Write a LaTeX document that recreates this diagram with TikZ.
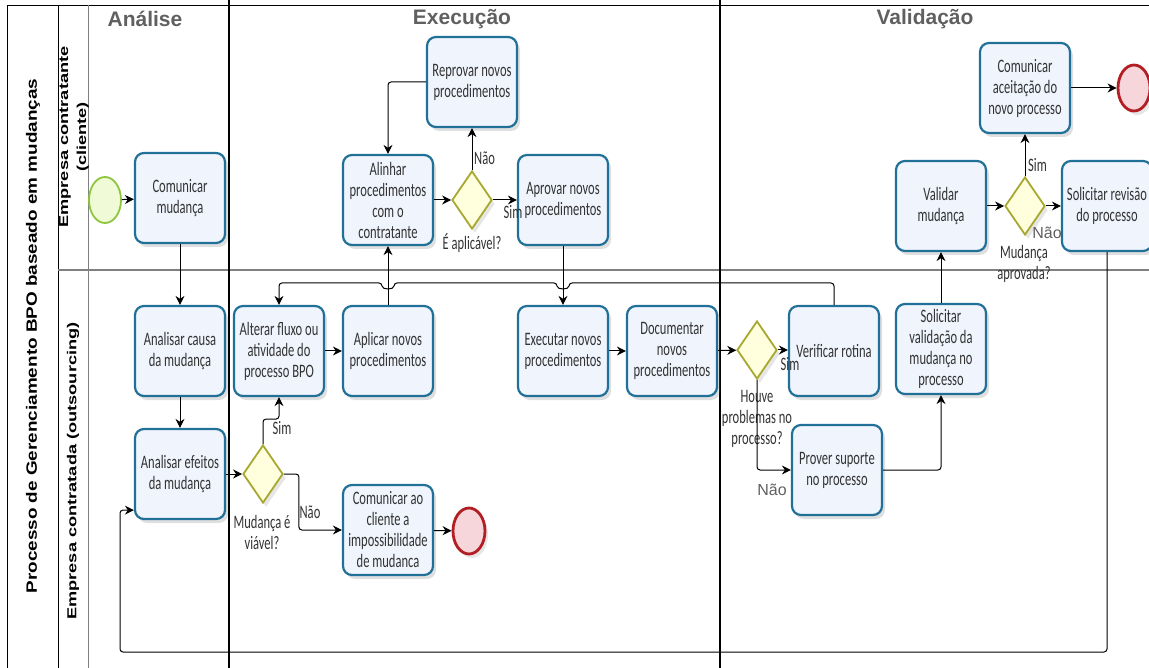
\documentclass[tikz,border=0pt]{standalone}
\usepackage{fontspec}
\setmainfont{Carlito}[FakeStretch=0.66]
\newfontfamily\headfont{Liberation Sans}
\newfontfamily\lanefont{Liberation Sans}[FakeStretch=1.4]
\newfontfamily\poolfont{Liberation Sans}[FakeStretch=1.26]
\usetikzlibrary{shapes.geometric,arrows.meta,shadows}

\definecolor{taskline}{RGB}{33,112,152}
\definecolor{taskfill}{RGB}{240,244,253}
\definecolor{gwline}{RGB}{168,168,48}
\definecolor{gwfill}{RGB}{255,255,222}
\definecolor{startline}{RGB}{140,198,63}
\definecolor{startfill}{RGB}{240,250,214}
\definecolor{endline}{RGB}{178,30,35}
\definecolor{endfill}{RGB}{246,214,218}
\definecolor{headgray}{RGB}{96,96,96}

\tikzset{
    task/.style={draw=taskline, line width=2.2pt, rounded corners=9pt, fill=taskfill,
        minimum width=90pt, minimum height=90pt, inner sep=1pt, align=center,
        text=black!80, font=\fontsize{19}{21}\selectfont,
        drop shadow={opacity=0.25, shadow xshift=3pt, shadow yshift=-4pt}},
    gateway/.style={diamond, draw=gwline, line width=1.8pt, fill=gwfill,
        minimum width=40pt, minimum height=58pt, inner sep=0pt,
        drop shadow={opacity=0.2, shadow xshift=3pt, shadow yshift=-4pt}},
    startev/.style={ellipse, draw=startline, line width=1.8pt, fill=startfill,
        minimum width=32pt, minimum height=46pt, inner sep=0pt},
    endev/.style={ellipse, draw=endline, line width=2.8pt, fill=endfill,
        minimum width=32pt, minimum height=46pt, inner sep=0pt,
        drop shadow={opacity=0.2, shadow xshift=3pt, shadow yshift=-4pt}},
    flow/.style={line width=1pt, rounded corners=3pt, -{Stealth[length=9pt,width=9pt]}},
    gwlabel/.style={inner sep=0pt, align=center, text=black!80, font=\fontsize{19}{21}\selectfont},
    graylabel/.style={inner sep=0pt, text=headgray, font=\headfont\fontsize{16}{20}\selectfont},
    phase/.style={text=headgray, font=\headfont\bfseries\fontsize{21}{24}\selectfont},
    lane/.style={rotate=90, align=center, font=\lanefont\bfseries\fontsize{13}{18}\selectfont}
}

\begin{document}
\begin{tikzpicture}[x=1pt, y=-1pt]
        \useasboundingbox (0,0) rectangle (1149,668);

        \draw[line width=0.8pt] (7,668)--(7,5)--(1149,5);
        \draw[line width=0.8pt] (58,5)--(58,668);
        \draw[gray] (88,5)--(88,668);
        \draw[gray, line width=1.6pt] (58,270)--(1149,270);
        \draw[line width=2pt] (229,0)--(229,668);
        \draw[line width=2pt] (720,0)--(720,668);

        \node[rotate=90, font=\poolfont\bfseries\fontsize{15}{18}\selectfont] (pool) at (33,336) {Processo de Gerenciamento BPO baseado em mudanças};
        \node[lane] (cliente) at (74,137) {Empresa contratante\\(cliente)};
        \node[lane] (outsourcing) at (73,471) {Empresa contratada (outsourcing)};

        \node[phase] (analise) at (145,19) {Análise};
        \node[phase] (execucao) at (462,19) {Execução};
        \node[phase] (validacao) at (925,19) {Validação};

        \node[startev] (inicio) at (105,200) {};
        \node[task] (comunicar) at (180,198) {Comunicar\\mudança};
        \node[task] (alinhar) at (388,200) {Alinhar\\procedimentos\\com o\\contratante};
        \node[task] (reprovar) at (472,82) {Reprovar novos\\procedimentos};
        \node[gateway] (gwaplic) at (472,200) {};
        \node[task] (aprovar) at (563,200) {Aprovar novos\\procedimentos};
        \node[task] (validar) at (941,206) {Validar\\mudança};
        \node[gateway] (gwaprov) at (1025,206) {};
        \node[task] (aceitacao) at (1025,88) {Comunicar\\aceitação do\\novo processo};
        \node[endev] (fimA) at (1134,88) {};
        \node[task] (revisao) at (1107,206) {Solicitar revisão\\do processo};

        \node[task] (causa) at (180,351) {Analisar causa\\da mudança};
        \node[task] (efeitos) at (180,474) {Analisar efeitos\\da mudança};
        \node[task] (alterar) at (279,351) {Alterar fluxo ou\\atividade do\\processo BPO};
        \node[task] (aplicar) at (388,351) {Aplicar novos\\procedimentos};
        \node[gateway] (gwviavel) at (263,474) {};
        \node[task] (impossib) at (388,530) {Comunicar ao\\cliente a\\impossibilidade\\de mudanca};
        \node[endev] (fimB) at (469,531) {};
        \node[task] (executar) at (563,351) {Executar novos\\procedimentos};
        \node[task] (documentar) at (672,351) {Documentar\\novos\\procedimentos};
        \node[gateway] (gwprob) at (757,350) {};
        \node[task] (verificar) at (834,351) {Verificar rotina};
        \node[task] (solvalid) at (941,349) {Solicitar\\validação da\\mudança no\\processo};
        \node[task] (suporte) at (837,470) {Prover suporte\\no processo};

        \node[gwlabel] (lbaplic) at (472,243) {É aplicável?};
        \node[gwlabel] (lbaprov) at (1024,264) {Mudança\\aprovada?};
        \node[gwlabel] (lbviavel) at (262,532) {Mudança é\\viável?};
        \node[gwlabel] (lbprob) at (757,419) {Houve\\problemas no\\processo?};

        \draw[flow] (inicio)--(comunicar);
        \draw[flow] (comunicar)--(causa);
        \draw[flow] (causa)--(efeitos);
        \draw[flow] (efeitos.east|-gwviavel)--(gwviavel);
        \draw[flow] (gwviavel.north) |- ([yshift=-22pt]alterar.south)--(alterar.south);
        \draw[flow] (gwviavel.east)--++(15,0) |- (impossib.west);
        \draw[flow] (impossib)--(fimB);
        \draw[flow] (alterar)--(aplicar);
        \draw[flow] (aplicar)--(alinhar);
        \draw[flow] (alinhar)--(gwaplic);
        \draw[flow] (gwaplic)--(reprovar);
        \draw[flow] (gwaplic)--(aprovar);
        \draw[flow] (reprovar.west) -| (alinhar.north);
        \draw[flow] (aprovar)--(executar);
        \draw[flow] (executar)--(documentar);
        \draw[flow] (documentar)--(gwprob);
        \draw[flow] (gwprob)--(verificar.west|-gwprob);
        \draw[flow] (gwprob.south) |- (suporte.west);
        \draw[flow] (verificar.north) |- (569,283) .. controls (569,290) and (557,290) .. (557,283)
            --(394,283) .. controls (394,290) and (382,290) .. (382,283) -| (alterar.north);
        \draw[flow] (suporte.east) -| (solvalid.south);
        \draw[flow] (solvalid)--(validar);
        \draw[flow] (validar)--(gwaprov);
        \draw[flow] (gwaprov)--(aceitacao);
        \draw[flow] (gwaprov)--(revisao);
        \draw[flow] (aceitacao)--(fimA);
        \draw[flow] (revisao.south) |- (120,652) |- ([yshift=10pt]efeitos.south west);

        \node[gwlabel, anchor=west] (naoaplic) at (474,158) {Não};
        \node[gwlabel] (simaplic) at (513,212) {Sim};
        \node[gwlabel, anchor=west] (simaprov) at (1028,165) {Sim};
        \node[graylabel] (naoaprov) at (1047,233) {Não};
        \node[gwlabel] (simviavel) at (282,428) {Sim};
        \node[gwlabel] (naoviavel) at (310,512) {Não};
        \node[gwlabel] (simprob) at (790,364) {Sim};
        \node[graylabel] (naoprob) at (772,490) {Não};
\end{tikzpicture}
\end{document}
